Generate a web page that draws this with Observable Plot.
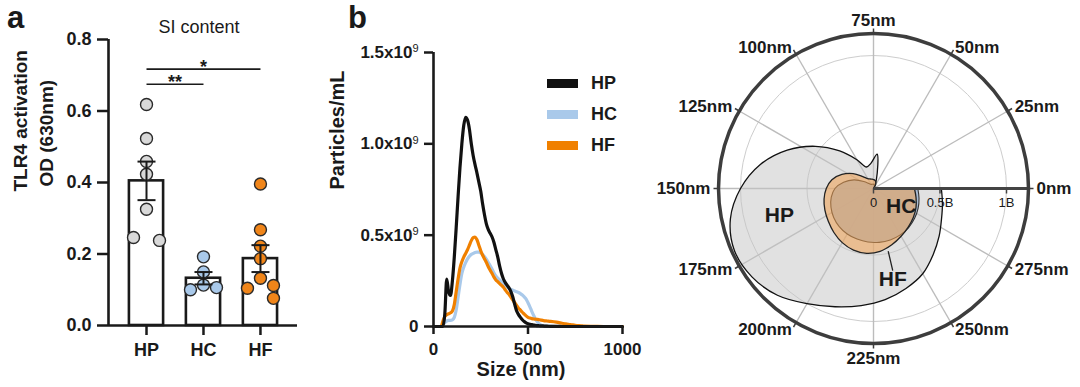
<!DOCTYPE html>
<html><head><meta charset="utf-8">
<script src="https://cdn.jsdelivr.net/npm/d3@7"></script>
<script src="https://cdn.jsdelivr.net/npm/@observablehq/plot@0.6"></script>
<style>
body{margin:0;background:#fff;}
#wrap{position:relative;width:1080px;height:387px;overflow:hidden;font-family:"Liberation Sans",Arial,Helvetica,sans-serif;color:#1a1a1a;}
.panel{position:absolute;top:0;}
.plabel{position:absolute;font-weight:bold;font-size:31px;line-height:35px;}
.legrow{position:absolute;display:flex;align-items:center;font-weight:bold;font-size:18px;}
.sw{width:31px;height:9px;margin-right:13px;}
</style></head><body><div id="wrap"></div>
<script>
// ---------- Panel a data ----------
const groups = ["HP", "HC", "HF"];
const hpPoints = [0.618, 0.523, 0.459, 0.423, 0.325, 0.238, 0.246];
const hcPoints = [0.192, 0.150, 0.113, 0.100, 0.106];
const hfPoints = [0.396, 0.268, 0.222, 0.187, 0.132, 0.112, 0.104, 0.076];
const yTicksA = [0, 0.2, 0.4, 0.6, 0.8];
const groupColors = ["#d9d9d9", "#a9c9ea", "#f08519"];

// ---------- Panel b data (size in nm, particles/mL in units of 1e9) ----------
const sizes = [0,10,20,30,40,50,60,70,80,90,100,110,120,130,140,150,160,170,180,190,200,210,220,230,240,250,260,270,280,290,300,310,320,330,340,350,360,370,380,390,400,410,420,430,440,450,460,470,480,490,500,510,520,530,540,550,560,570,580,590,600,620,650,680,700,725,750,780,800,850,900,950,1000];
const hpCurve = [0,0,0,0,0,0,0.07,0.26,0.19,0.17,0.25,0.38,0.54,0.71,0.87,1.00,1.10,1.145,1.13,1.08,1.00,0.935,0.885,0.84,0.79,0.74,0.67,0.61,0.56,0.53,0.51,0.49,0.46,0.42,0.38,0.33,0.29,0.26,0.24,0.225,0.21,0.19,0.16,0.12,0.085,0.065,0.05,0.037,0.027,0.02,0.015,0.012,0.01,0.008,0.006,0.005,0.004,0.003,0.003,0.002,0.002,0.001,0.001,0,0,0,0,0,0,0,0,0,0];
const hcCurve = [0,0,0,0,0,0.01,0.022,0.03,0.033,0.033,0.036,0.05,0.09,0.16,0.23,0.29,0.325,0.35,0.37,0.385,0.395,0.40,0.405,0.407,0.407,0.403,0.395,0.382,0.367,0.35,0.333,0.313,0.293,0.277,0.265,0.255,0.245,0.235,0.225,0.216,0.208,0.203,0.198,0.194,0.19,0.186,0.18,0.172,0.162,0.15,0.13,0.108,0.083,0.06,0.04,0.025,0.014,0.007,0.004,0.003,0.002,0.001,0,0,0,0,0,0,0,0,0,0,0];
const hfCurve = [0,0,0,0,0,0.03,0.055,0.065,0.07,0.075,0.085,0.12,0.19,0.26,0.32,0.355,0.38,0.40,0.42,0.445,0.47,0.487,0.49,0.475,0.445,0.415,0.39,0.37,0.35,0.327,0.308,0.29,0.27,0.255,0.245,0.235,0.225,0.215,0.2,0.186,0.175,0.16,0.145,0.13,0.115,0.1,0.09,0.078,0.068,0.058,0.05,0.046,0.043,0.041,0.04,0.039,0.037,0.035,0.033,0.031,0.03,0.028,0.024,0.018,0.014,0.011,0.007,0.004,0.002,0.001,0,0,0];
const xTicksB = [0, 500, 1000];
const yTicksB = [0, 0.5, 1, 1.5];
const lineColors = ["#111111", "#a9c9ea", "#f08000"];

// ---------- Panel c axis data ----------
const angleTicksNm = [0,25,50,75,100,125,150,175,200,225,250,275];
const turnNm = 300;
const radialTicks = [0, 0.5, 1];
const radialTickLabels = ["0", "0.5B", "1B"];
const gridRings = [0.5, 1];

const FONT = '"Liberation Sans", Arial, Helvetica, sans-serif';
const wrap = document.getElementById("wrap");
function addPanel(el, left, width) {
  const d = document.createElement("div");
  d.className = "panel"; d.style.left = left + "px"; d.style.width = width + "px";
  d.appendChild(el); wrap.appendChild(d); return d;
}

// ================= Panel a =================
{
  const W = 300, H = 387, ml = 108, mr = 3, mt = 39, mb = 62;
  const xDom = [-0.667, 2.65];
  const yDom = [0, 0.8];
  const pxX = (W - ml - mr) / (xDom[1] - xDom[0]);
  const pxY = (H - mt - mb) / (yDom[1] - yDom[0]);
  const pointsByGroup = [hpPoints, hcPoints, hfPoints];
  const stats = groups.map((g, i) => {
    const v = pointsByGroup[i];
    return {g, i, m: d3.mean(v), s: d3.deviation(v) / Math.sqrt(v.length)};
  });
  // simple beeswarm layout so points do not overlap
  const dots = [];
  pointsByGroup.forEach((vals, i) => {
    const sorted = vals.map(v => ({v})).sort((a, b) => b.v - a.v);
    const placed = [];
    const offs = [0, 1, -1, 2, -2, 3, -3];
    for (const p of sorted) {
      p.ox = 0;
      for (const o of offs) {
        const ox = o * 13;
        if (placed.every(q => Math.hypot(q.ox - ox, (q.v - p.v) * pxY) >= 12.5)) { p.ox = ox; break; }
      }
      placed.push(p);
    }
    // spread a lone centre/side pair symmetrically
    placed.forEach(p => {
      if (p.ox !== 0) {
        const partner = placed.find(q => q !== p && q.ox === 0 && Math.abs(q.v - p.v) * pxY < 12.5 &&
          !placed.some(r => r !== p && r !== q && r.ox === -p.ox && Math.hypot(0, (r.v - q.v) * pxY) < 12.5));
        if (partner && placed.every(r => r === partner || r === p || Math.hypot(r.ox + p.ox, (r.v - partner.v) * pxY) >= 12.5)) partner.ox = -p.ox;
      }
    });
    placed.forEach(p => dots.push({group: groups[i], value: p.v, x: i + p.ox / pxX}));
  });
  const sig = [{a: "HP", b: "HC", y: 0.675, label: "**"}, {a: "HP", b: "HF", y: 0.717, label: "*"}];
  const cap = 9 / pxX;
  const plot = Plot.plot({
    width: W, height: H, marginLeft: ml, marginRight: mr, marginTop: mt, marginBottom: mb,
    x: {domain: xDom, axis: null}, y: {domain: yDom, axis: null},
    color: {domain: groups, range: groupColors},
    style: {fontFamily: FONT, fontSize: "18px", fontWeight: "bold", color: "#1a1a1a", background: "transparent", overflow: "visible"},
    marks: [
      Plot.rectY(stats, {x1: d => d.i - 0.3, x2: d => d.i + 0.3, y: "m", fill: "white", stroke: "#1a1a1a", strokeWidth: 2.6}),
      Plot.dot(dots, {x: "x", y: "value", r: 6, fill: "group", stroke: "#2a2a2a", strokeWidth: 1.4}),
      Plot.ruleX(stats, {x: "i", y1: d => d.m - d.s, y2: d => d.m + d.s, stroke: "#1a1a1a", strokeWidth: 2}),
      Plot.link(stats, {x1: d => d.i - cap, x2: d => d.i + cap, y1: d => d.m + d.s, y2: d => d.m + d.s, stroke: "#1a1a1a", strokeWidth: 2}),
      Plot.link(stats, {x1: d => d.i - cap, x2: d => d.i + cap, y1: d => d.m - d.s, y2: d => d.m - d.s, stroke: "#1a1a1a", strokeWidth: 2}),
      Plot.link(sig, {x1: d => groups.indexOf(d.a), x2: d => groups.indexOf(d.b), y1: "y", y2: "y", stroke: "#1a1a1a", strokeWidth: 1.6}),
      Plot.text(sig, {x: d => (groups.indexOf(d.a) + groups.indexOf(d.b)) / 2, y: "y", text: "label", lineAnchor: "bottom", dy: 4, fontSize: 18}),
      Plot.axisY({ticks: yTicksA, tickFormat: d => d.toFixed(1), tickSize: 11, tickPadding: 6, strokeWidth: 2.5, label: null}),
      Plot.axisX({ticks: [0, 1, 2], tickFormat: i => groups[i], tickSize: 10, tickPadding: 8, strokeWidth: 2.5, label: null}),
      Plot.ruleX([xDom[0]], {stroke: "#1a1a1a", strokeWidth: 2.6}),
      Plot.ruleY([0], {stroke: "#1a1a1a", strokeWidth: 2.6}),
      Plot.text(["TLR4 activation"], {text: d => d, frameAnchor: "left", dx: -88, dy: 9, rotate: -90, fontSize: 19}),
      Plot.text(["OD (630nm)"], {text: d => d, frameAnchor: "left", dx: -62, dy: 4, rotate: -90, fontSize: 19}),
      Plot.text(["SI content"], {text: d => d, frameAnchor: "top", dy: -19, dx: -4, fontSize: 18, fontWeight: "normal"})
    ]
  });
  addPanel(plot, 0, W);
}

// ================= Panel b =================
{
  const W = 340, H = 387, ml = 113, mr = 38, mt = 52, mb = 61;
  const series = [
    {name: "HC", vals: hcCurve},
    {name: "HF", vals: hfCurve},
    {name: "HP", vals: hpCurve}
  ];
  const lineMarks = series.map(s => Plot.line(sizes.map((x, k) => ({size: x, value: s.vals[k], series: s.name})),
    {x: "size", y: "value", stroke: "series", strokeWidth: 3.2, curve: "monotone-x"}));
  const fmt = d => d === 0 ? "0" : d.toFixed(1) + "x10\u2079";
  const plot = Plot.plot({
    width: W, height: H, marginLeft: ml, marginRight: mr, marginTop: mt, marginBottom: mb,
    x: {domain: [0, 1000], axis: null}, y: {domain: [0, 1.5], axis: null},
    color: {domain: groups, range: lineColors},
    style: {fontFamily: FONT, fontSize: "17px", fontWeight: "bold", color: "#1a1a1a", background: "transparent", overflow: "visible"},
    marks: [
      ...lineMarks,
      Plot.axisY({ticks: yTicksB, tickFormat: fmt, tickSize: 9, tickPadding: 6, strokeWidth: 2.5, label: null}),
      Plot.axisX({ticks: xTicksB, tickFormat: d => String(d), tickSize: 8, tickPadding: 8, strokeWidth: 2.5, label: null}),
      Plot.ruleX([0], {stroke: "#1a1a1a", strokeWidth: 2.6}),
      Plot.ruleY([0], {stroke: "#1a1a1a", strokeWidth: 2.6}),
      Plot.text(["Particles/mL"], {text: d => d, frameAnchor: "left", dx: -96, rotate: -90, fontSize: 20}),
      Plot.text(["Size (nm)"], {text: d => d, frameAnchor: "bottom", dy: 49, dx: -7, fontSize: 20})
    ]
  });
  // superscript exponent as real text
  plot.querySelectorAll("text").forEach(t => {
    if (t.textContent.includes("\u2079")) {
      const base = t.textContent.replace("\u2079", "");
      t.textContent = base;
      const ts = document.createElementNS("http://www.w3.org/2000/svg", "tspan");
      ts.setAttribute("dy", "-0.5em"); ts.setAttribute("font-size", "11px"); ts.setAttribute("font-weight", "normal");
      ts.textContent = "9";
      t.appendChild(ts);
    }
  });
  addPanel(plot, 320, W);
  // legend
  const legendRows = [{name: "HP", top: 73}, {name: "HC", top: 104}, {name: "HF", top: 135}];
  legendRows.forEach((r) => {
    const row = document.createElement("div");
    row.className = "legrow"; row.style.left = "547px"; row.style.top = r.top + "px"; row.style.height = "20px";
    const sw = document.createElement("div"); sw.className = "sw"; sw.style.background = lineColors[groups.indexOf(r.name)];
    const tx = document.createElement("span"); tx.textContent = r.name;
    row.appendChild(sw); row.appendChild(tx); wrap.appendChild(row);
  });
}

// ================= Panel c =================
{
  const W = 420, H = 387, cx = 213, cy = 188, R = 155, pxPerB = 133;
  const rMax = R / pxPerB;
  const ang = s => s / turnNm * 2 * Math.PI;
  const toXY = (s, r) => ({x: r * Math.cos(ang(s)), y: r * Math.sin(ang(s))});
  const polar = vals => sizes.map((s, k) => ({s, v: vals[k]})).filter(d => d.s <= turnNm).map(d => toXY(d.s, d.v));
  const labR = rMax + 8 / pxPerB;
  const labs = angleTicksNm.map(s => ({s, ...toXY(s, labR), c: Math.cos(ang(s)), text: s + "nm"}));
  const right = labs.filter(d => d.c > 0.01), left = labs.filter(d => d.c < -0.01);
  const top = labs.filter(d => Math.abs(d.c) <= 0.01 && d.y > 0), bottom = labs.filter(d => Math.abs(d.c) <= 0.01 && d.y < 0);
  const tickOut = 5 / pxPerB;
  const hfLead = [toXY(236, 0.487), toXY(236, 0.63)];
  const plot = Plot.plot({
    width: W, height: H, marginLeft: cx - R, marginRight: W - cx - R, marginTop: cy - R, marginBottom: H - cy - R,
    x: {domain: [-rMax, rMax], axis: null}, y: {domain: [-rMax, rMax], axis: null},
    r: {type: "linear", domain: [0, rMax], range: [0, R]},
    style: {fontFamily: FONT, fontSize: "17px", fontWeight: "bold", color: "#1a1a1a", background: "transparent", overflow: "visible"},
    marks: [
      Plot.dot(gridRings, {x: 0, y: 0, r: d => d, fill: "none", stroke: "#cdcdcd", strokeWidth: 1}),
      Plot.link(labs, {x1: 0, y1: 0, x2: d => rMax * Math.cos(ang(d.s)), y2: d => rMax * Math.sin(ang(d.s)), stroke: "#bcbcbc", strokeWidth: 1.4}),
      Plot.line(polar(hpCurve), {x: "x", y: "y", curve: "catmull-rom", fill: "#c4c4c4", fillOpacity: 0.5, stroke: "#111", strokeWidth: 1.3}),
      Plot.line(polar(hcCurve), {x: "x", y: "y", curve: "catmull-rom", fill: "#a3b8d2", fillOpacity: 0.9, stroke: "#333", strokeWidth: 1.1}),
      Plot.line(polar(hfCurve), {x: "x", y: "y", curve: "catmull-rom", fill: "#f0a050", fillOpacity: 0.55, stroke: "#222", strokeWidth: 1.3}),
      Plot.line(hfLead, {x: "x", y: "y", stroke: "#222", strokeWidth: 1.3}),
      Plot.link([0], {x1: 0, y1: 0, x2: rMax, y2: 0, stroke: "#444", strokeWidth: 3.2}),
      Plot.link(radialTicks, {x1: d => d, x2: d => d, y1: 0, y2: -tickOut, stroke: "#444", strokeWidth: 1.5}),
      Plot.text(radialTicks, {x: d => d, y: 0, dy: 14, text: (d, i) => radialTickLabels[i], fontSize: 13, fontWeight: "normal"}),
      Plot.dot([rMax], {x: 0, y: 0, r: d => d, fill: "none", stroke: "#3d3d3d", strokeWidth: 3.5}),
      Plot.link(labs, {x1: d => rMax * Math.cos(ang(d.s)), y1: d => rMax * Math.sin(ang(d.s)), x2: d => (rMax + tickOut) * Math.cos(ang(d.s)), y2: d => (rMax + tickOut) * Math.sin(ang(d.s)), stroke: "#3d3d3d", strokeWidth: 1.5}),
      Plot.text(right, {x: "x", y: "y", text: "text", textAnchor: "start"}),
      Plot.text(left, {x: "x", y: "y", text: "text", textAnchor: "end"}),
      Plot.text(top, {x: "x", y: "y", text: "text", lineAnchor: "bottom"}),
      Plot.text(bottom, {x: "x", y: "y", text: "text", lineAnchor: "top"}),
      Plot.text([{t: "HP", ...toXY(163, 0.735)}, {t: "HC", ...toXY(272.5, 0.248)}, {t: "HF", ...toXY(235, 0.70)}],
        {x: "x", y: "y", text: "t", fontSize: 21})
    ]
  });
  addPanel(plot, 660, W);
}

// panel letters
[["a", 7, 0], ["b", 348, 0]].forEach(([t, l, tp]) => {
  const d = document.createElement("div"); d.className = "plabel"; d.textContent = t;
  d.style.left = l + "px"; d.style.top = tp + "px"; wrap.appendChild(d);
});
</script></body></html>
